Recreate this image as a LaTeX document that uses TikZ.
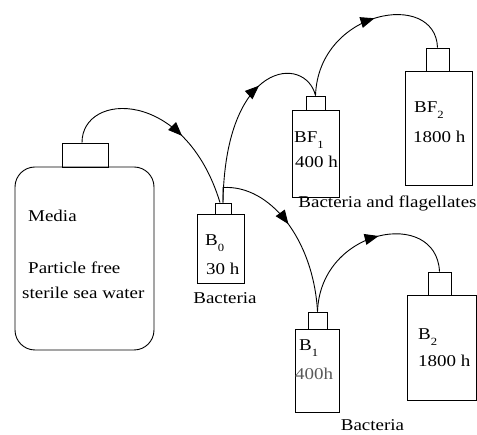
\documentclass[tikz,border=0pt]{standalone}
\usepackage{fontspec}
\setmainfont{Liberation Serif}[FakeStretch=1.15]
\usetikzlibrary{arrows.meta,decorations.markings}
\newcommand{\lowsub}[1]{\raisebox{-6pt}{\fontsize{11}{11}\selectfont #1}}
\begin{document}
\begin{tikzpicture}[x=1pt,y=-1pt,
  font=\fontsize{16.5}{19}\selectfont,
  vessel/.style={draw, line width=0.9pt, inner sep=0pt, rectangle},
  lab/.style={anchor=base west, inner sep=0pt},
  clab/.style={anchor=base, inner sep=0pt},
  conn/.style={line width=0.9pt},
  midarrow/.style={decoration={markings, mark=at position #1 with {\arrow{Triangle[length=14pt,width=11pt]}}}, postaction={decorate}}]
\useasboundingbox (0,0) rectangle (477,435);

% Media bottle
\node[vessel, rounded corners=20pt, minimum width=139pt, minimum height=183pt] (media) at (84.5,258.5) {};
\node[vessel, minimum width=46pt, minimum height=24pt] (mcap) at (85,155) {};
\node[lab] (tmedia) at (28,222) {Media};
\node[lab] (tpart) at (28,274) {Particle free};
\node[lab] (tster) at (22,299) {sterile sea water};

% B0
\node[vessel, minimum width=47pt, minimum height=69pt] (b0) at (220.5,248.5) {};
\node[vessel, minimum width=16pt, minimum height=11pt] (b0cap) at (223,208.5) {};
\node[lab] (tb0) at (205,246) {B\lowsub{0}};
\node[lab] (tb0h) at (206,275) {30 h};
\node[clab] (tbact0) at (225,304) {Bacteria};

% BF1
\node[vessel, minimum width=47pt, minimum height=87pt] (bf1) at (315.5,153.5) {};
\node[vessel, minimum width=19pt, minimum height=14pt] (bf1cap) at (315.5,103) {};
\node[lab] (tbf1) at (294,143) {BF\lowsub{1}};
\node[lab] (tbf1h) at (295,168) {400 h};

% BF2
\node[vessel, minimum width=67pt, minimum height=114pt] (bf2) at (438.5,128) {};
\node[vessel, minimum width=23pt, minimum height=23pt] (bf2cap) at (437.5,59.5) {};
\node[lab] (tbf2) at (414,113) {BF\lowsub{2}};
\node[lab] (tbf2h) at (413,143) {1800 h};
\node[clab] (tbf) at (387.5,208) {Bacteria and flagellates};

% B1
\node[vessel, minimum width=44pt, minimum height=83pt] (b1) at (317,370.5) {};
\node[vessel, minimum width=19pt, minimum height=17pt] (b1cap) at (317.5,320.5) {};
\node[lab] (tb1) at (299,351) {B\lowsub{1}};
\node[lab, text=black!65] (tb1h) at (295,380) {400h};

% B2
\node[vessel, minimum width=69pt, minimum height=105pt] (b2) at (441.5,347.5) {};
\node[vessel, minimum width=23pt, minimum height=23pt] (b2cap) at (439.5,283.5) {};
\node[lab] (tb2) at (418,340) {B\lowsub{2}};
\node[lab] (tb2h) at (418,367) {1800 h};
\node[clab] (tbact1) at (372.5,431) {Bacteria};

% connectors
\draw[conn, midarrow=0.62] ([xshift=-3pt]mcap.north) .. controls +(0,-51) and +(-35,-115) .. ([xshift=-3pt]b0cap.north);
\draw[conn, midarrow=0.64] (b0cap.north) .. controls +(2,-143) and +(-10,-41) .. (bf1cap.north);
\draw[conn, midarrow=0.56] (bf1cap.north) .. controls +(3,-86) and +(-2,-58) .. (bf2cap.north);
\draw[conn, midarrow=0.5] (b0cap.north) -- ++(0,-15) .. controls +(47,-3) and +(-4,-72) .. (b1cap.north);
\draw[conn, midarrow=0.56] (b1cap.north) .. controls +(3,-84) and +(-3,-64) .. (b2cap.north);
\end{tikzpicture}
\end{document}
